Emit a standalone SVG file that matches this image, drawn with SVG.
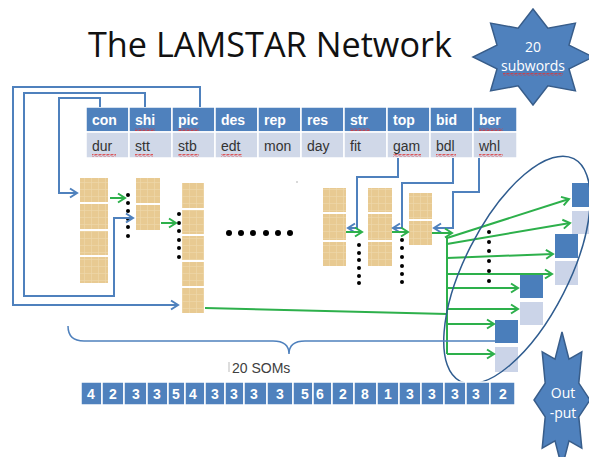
<svg xmlns="http://www.w3.org/2000/svg" width="589" height="457" viewBox="0 0 589 457">
<style>
.hdr{fill:#4F81BD;stroke:#fff;stroke-width:1.5}
.dat{fill:#D0D8E8;stroke:#fff;stroke-width:1.5}
.ht{font-family:"Liberation Sans",Arial,sans-serif;font-weight:bold;font-size:14px;fill:#fff}
.dt{font-family:"Liberation Sans",Arial,sans-serif;font-size:14px;fill:#333}
.som{fill:url(#tex)}
.blue{fill:none;stroke:#4F81BD;stroke-width:2}
.green{fill:none;stroke:#2DB04B;stroke-width:2}
.dot{fill:#000}
.od{fill:#4A7EBB}
.ol{fill:#CBD4E8}
.num{fill:#4F81BD;stroke:#fff;stroke-width:1.5}
.nt{font-family:"Liberation Sans",Arial,sans-serif;font-weight:bold;font-size:14px;fill:#fff;text-anchor:middle}
.star{fill:#4F81BD;stroke:#385D8A;stroke-width:1.5}
.st{font-family:"Open Sans","Liberation Sans",sans-serif;font-size:14px;fill:#fff;text-anchor:middle}
.sq{fill:url(#squig)}
</style>
<defs>
<pattern id="tex" width="7" height="7" patternUnits="userSpaceOnUse">
<rect width="7" height="7" fill="#E8CA92"/>
<path d="M0,0.5H7M0.5,0V7" stroke="#EED8AC" stroke-width="0.6"/>
</pattern>
<pattern id="squig" width="4" height="3" patternUnits="userSpaceOnUse">
<path d="M0,2.5L1,0.5L3,2.5L4,0.5" fill="none" stroke="#E03535" stroke-width="0.8"/>
</pattern>
<marker id="ab" markerUnits="userSpaceOnUse" markerWidth="12" markerHeight="12" refX="9" refY="6" orient="auto">
<path d="M2,1.5L9,6L2,10.5" fill="none" stroke="#4F81BD" stroke-width="2"/>
</marker>
<marker id="ag" markerUnits="userSpaceOnUse" markerWidth="12" markerHeight="12" refX="9" refY="6" orient="auto">
<path d="M2,1.5L9,6L2,10.5" fill="none" stroke="#2DB04B" stroke-width="2"/>
</marker>
</defs>
<rect width="589" height="457" fill="#fff"/>

<g id="title">
<text x="88" y="57" font-family="Open Sans,Liberation Sans,sans-serif" font-size="34" fill="#111" textLength="364" lengthAdjust="spacingAndGlyphs">The LAMSTAR Network</text>
</g>

<g id="star-subwords">
<polygon class="star" points="533,9 547.9,28.2 575.4,23.1 569,45.1 593,57 569,68.9 575.4,90.9 547.9,85.8 533,105 518.1,85.8 490.6,90.9 497,68.9 473,57 497,45.1 490.6,23.1 518.1,28.2"/>
<text class="st" x="533" y="52">20</text>
<text class="st" x="533" y="71">subwords</text>
<rect class="sq" x="503" y="73" width="60" height="3"/>
</g>

<g id="table">
<rect class="hdr" x="86" y="107" width="43" height="25"/>
<rect class="hdr" x="129" y="107" width="43" height="25"/>
<rect class="hdr" x="172" y="107" width="43" height="25"/>
<rect class="hdr" x="215" y="107" width="43" height="25"/>
<rect class="hdr" x="258" y="107" width="43" height="25"/>
<rect class="hdr" x="301" y="107" width="43" height="25"/>
<rect class="hdr" x="344" y="107" width="43" height="25"/>
<rect class="hdr" x="387" y="107" width="43" height="25"/>
<rect class="hdr" x="430" y="107" width="43" height="25"/>
<rect class="hdr" x="473" y="107" width="44" height="25"/>
<rect class="dat" x="86" y="132" width="43" height="26"/>
<rect class="dat" x="129" y="132" width="43" height="26"/>
<rect class="dat" x="172" y="132" width="43" height="26"/>
<rect class="dat" x="215" y="132" width="43" height="26"/>
<rect class="dat" x="258" y="132" width="43" height="26"/>
<rect class="dat" x="301" y="132" width="43" height="26"/>
<rect class="dat" x="344" y="132" width="43" height="26"/>
<rect class="dat" x="387" y="132" width="43" height="26"/>
<rect class="dat" x="430" y="132" width="43" height="26"/>
<rect class="dat" x="473" y="132" width="44" height="26"/>
<text class="ht" x="92" y="125">con</text>
<text class="ht" x="135" y="125">shi</text>
<text class="ht" x="178" y="125">pic</text>
<text class="ht" x="221" y="125">des</text>
<text class="ht" x="264" y="125">rep</text>
<text class="ht" x="307" y="125">res</text>
<text class="ht" x="350" y="125">str</text>
<text class="ht" x="393" y="125">top</text>
<text class="ht" x="436" y="125">bid</text>
<text class="ht" x="479" y="125">ber</text>
<text class="dt" x="92" y="151">dur</text>
<text class="dt" x="135" y="151">stt</text>
<text class="dt" x="178" y="151">stb</text>
<text class="dt" x="221" y="151">edt</text>
<text class="dt" x="264" y="151">mon</text>
<text class="dt" x="307" y="151">day</text>
<text class="dt" x="350" y="151">fit</text>
<text class="dt" x="393" y="151">gam</text>
<text class="dt" x="436" y="151">bdl</text>
<text class="dt" x="479" y="151">whl</text>
<rect class="sq" x="135" y="128" width="20" height="3"/>
<rect class="sq" x="178" y="128" width="21" height="3"/>
<rect class="sq" x="350" y="128" width="20" height="3"/>
<rect class="sq" x="479" y="128" width="24" height="3"/>
<rect class="sq" x="92" y="154" width="24" height="3"/>
<rect class="sq" x="135" y="154" width="18" height="3"/>
<rect class="sq" x="178" y="154" width="21" height="3"/>
<rect class="sq" x="221" y="154" width="21" height="3"/>
<rect class="sq" x="393" y="154" width="28" height="3"/>
<rect class="sq" x="436" y="154" width="20" height="3"/>
<rect class="sq" x="479" y="154" width="24" height="3"/>
</g>

<g id="som-1">
<rect class="som" x="80" y="178" width="28" height="24"/>
<rect class="som" x="80" y="204" width="28" height="25"/>
<rect class="som" x="80" y="231" width="28" height="24"/>
<rect class="som" x="80" y="257" width="28" height="26"/>
</g>
<g id="som-2">
<rect class="som" x="136" y="178" width="24" height="25"/>
<rect class="som" x="136" y="205" width="24" height="25"/>
</g>
<g id="som-3">
<rect class="som" x="182" y="183" width="22" height="25"/>
<rect class="som" x="182" y="210" width="22" height="24"/>
<rect class="som" x="182" y="236" width="22" height="24"/>
<rect class="som" x="182" y="262" width="22" height="24"/>
<rect class="som" x="182" y="288" width="22" height="25"/>
</g>
<g id="som-a">
<rect class="som" x="323" y="188" width="23" height="24"/>
<rect class="som" x="323" y="214" width="23" height="26"/>
<rect class="som" x="323" y="242" width="23" height="24"/>
</g>
<g id="som-b">
<rect class="som" x="368" y="188" width="24" height="24"/>
<rect class="som" x="368" y="214" width="24" height="26"/>
<rect class="som" x="368" y="242" width="24" height="24"/>
</g>
<g id="som-c">
<rect class="som" x="409" y="193" width="23" height="26"/>
<rect class="som" x="409" y="221" width="23" height="24"/>
</g>

<g id="dots">
<circle class="dot" cx="128" cy="195" r="2"/><circle class="dot" cx="128" cy="203" r="2"/><circle class="dot" cx="128" cy="211" r="2"/><circle class="dot" cx="128" cy="219" r="2"/><circle class="dot" cx="128" cy="227" r="2"/><circle class="dot" cx="128" cy="236" r="2"/>
<circle class="dot" cx="179" cy="214" r="2"/><circle class="dot" cx="179" cy="223" r="2"/><circle class="dot" cx="179" cy="231" r="2"/><circle class="dot" cx="179" cy="240" r="2"/><circle class="dot" cx="179" cy="248" r="2"/><circle class="dot" cx="179" cy="257" r="2"/>
<circle class="dot" cx="229" cy="233" r="3"/><circle class="dot" cx="241" cy="233" r="3"/><circle class="dot" cx="253" cy="233" r="3"/><circle class="dot" cx="266" cy="233" r="3"/><circle class="dot" cx="278" cy="233" r="3"/><circle class="dot" cx="290" cy="233" r="3"/>
<circle class="dot" cx="359" cy="245" r="2"/><circle class="dot" cx="359" cy="253" r="2"/><circle class="dot" cx="359" cy="260" r="2"/><circle class="dot" cx="359" cy="268" r="2"/><circle class="dot" cx="359" cy="276" r="2"/><circle class="dot" cx="359" cy="283" r="2"/>
<circle class="dot" cx="402" cy="240" r="2"/><circle class="dot" cx="402" cy="248" r="2"/><circle class="dot" cx="402" cy="257" r="2"/><circle class="dot" cx="402" cy="266" r="2"/><circle class="dot" cx="402" cy="274" r="2"/><circle class="dot" cx="402" cy="282" r="2"/>
<circle class="dot" cx="489" cy="232" r="2"/><circle class="dot" cx="489" cy="242" r="2"/><circle class="dot" cx="489" cy="251" r="2"/><circle class="dot" cx="489" cy="261" r="2"/><circle class="dot" cx="489" cy="271" r="2"/><circle class="dot" cx="489" cy="281" r="2"/>
<circle cx="297" cy="182" r="1" fill="#ccc"/>
</g>

<g id="outputs">
<rect class="od" x="572" y="183" width="20" height="24"/>
<rect class="ol" x="572" y="211" width="20" height="23"/>
<rect class="od" x="555" y="234" width="23" height="24"/>
<rect class="ol" x="555" y="261" width="23" height="24"/>
<rect class="od" x="520" y="275" width="23" height="23"/>
<rect class="ol" x="520" y="302" width="23" height="23"/>
<rect class="od" x="495" y="320" width="23" height="23"/>
<rect class="ol" x="495" y="347" width="23" height="25"/>
</g>

<g id="connectors">
<path class="blue" d="M100,107V98H59V193H77" marker-end="url(#ab)"/>
<path class="blue" d="M145,107V93H24V296H114V218H133" marker-end="url(#ab)"/>
<path class="blue" d="M200,107V87H13V305H178" marker-end="url(#ab)"/>
<path class="blue" d="M398,158V177H357V228H348" marker-end="url(#ab)"/>
<path class="blue" d="M453,158V183H402V228H393" marker-end="url(#ab)"/>
<path class="blue" d="M479,158V192H453V228H434" marker-end="url(#ab)"/>
<path class="green" d="M110,198H125" marker-end="url(#ag)"/>
<path class="green" d="M161,223H176" marker-end="url(#ag)"/>
<path class="green" d="M346,232H362" marker-end="url(#ag)"/>
<path class="green" d="M392,232H408" marker-end="url(#ag)"/>
<path class="green" d="M432,233H452" marker-end="url(#ag)"/>
<path class="green" d="M205,308L447,314"/>
<path class="green" d="M447,236V354"/>
<path class="green" d="M447,238L569,199" marker-end="url(#ag)"/>
<path class="green" d="M447,244L570,223" marker-end="url(#ag)"/>
<path class="green" d="M447,258L553,254" marker-end="url(#ag)"/>
<path class="green" d="M447,274L552,274" marker-end="url(#ag)"/>
<path class="green" d="M447,288L518,288" marker-end="url(#ag)"/>
<path class="green" d="M447,309L518,309" marker-end="url(#ag)"/>
<path class="green" d="M447,324L494,324" marker-end="url(#ag)"/>
<path class="green" d="M447,354L494,354" marker-end="url(#ag)"/>
</g>

<g id="ellipse">
<ellipse cx="517" cy="270" rx="125" ry="52" transform="rotate(-63 517 270)" fill="none" stroke="#2F5C8F" stroke-width="1.5"/>
</g>

<g id="brace">
<path d="M68,326Q68,341 84,341H273Q289,341 289,354Q289,341 305,341H495" fill="none" stroke="#4F81BD" stroke-width="1.5"/>
<line x1="229" y1="362" x2="229" y2="372" stroke="#bbb" stroke-width="1"/>
<text x="232" y="373" font-family="Liberation Sans,Arial,sans-serif" font-size="14" fill="#404040">20 SOMs</text>
</g>

<g id="number-row">
<rect class="num" x="81" y="382" width="21" height="23"/>
<rect class="num" x="102" y="382" width="22" height="23"/>
<rect class="num" x="124" y="382" width="23" height="23"/>
<rect class="num" x="147" y="382" width="21" height="23"/>
<rect class="num" x="168" y="382" width="17" height="23"/>
<rect class="num" x="185" y="382" width="20" height="23"/>
<rect class="num" x="205" y="382" width="20" height="23"/>
<rect class="num" x="225" y="382" width="19" height="23"/>
<rect class="num" x="244" y="382" width="23" height="23"/>
<rect class="num" x="267" y="382" width="26" height="23"/>
<rect class="num" x="293" y="382" width="20" height="23"/>
<rect class="num" x="313" y="382" width="19" height="23"/>
<rect class="num" x="332" y="382" width="22" height="23"/>
<rect class="num" x="354" y="382" width="23" height="23"/>
<rect class="num" x="377" y="382" width="22" height="23"/>
<rect class="num" x="399" y="382" width="22" height="23"/>
<rect class="num" x="421" y="382" width="23" height="23"/>
<rect class="num" x="444" y="382" width="22" height="23"/>
<rect class="num" x="466" y="382" width="24" height="23"/>
<rect class="num" x="490" y="382" width="25" height="23"/>
<text class="nt" x="91" y="399">4</text>
<text class="nt" x="113" y="399">2</text>
<text class="nt" x="136" y="399">3</text>
<text class="nt" x="157" y="399">3</text>
<text class="nt" x="176" y="399">5</text>
<text class="nt" x="193" y="399">4</text>
<text class="nt" x="215" y="399">3</text>
<text class="nt" x="234" y="399">3</text>
<text class="nt" x="254" y="399">3</text>
<text class="nt" x="280" y="399">3</text>
<text class="nt" x="305" y="399">5</text>
<text class="nt" x="320" y="399">6</text>
<text class="nt" x="343" y="399">2</text>
<text class="nt" x="365" y="399">8</text>
<text class="nt" x="388" y="399">1</text>
<text class="nt" x="410" y="399">3</text>
<text class="nt" x="432" y="399">3</text>
<text class="nt" x="455" y="399">3</text>
<text class="nt" x="476" y="399">3</text>
<text class="nt" x="503" y="399">2</text>
</g>

<g id="star-output">
<polygon class="star" points="562,332 569,359.2 581.8,351.9 578.8,383.1 590,400 578.8,416.9 581.8,448.1 569,440.8 562,468 555,440.8 542.2,448.1 545.2,416.9 534,400 545.2,383.1 542.2,351.9 555,359.2"/>
<text class="st" x="563" y="398">Out</text>
<text class="st" x="563" y="418">-put</text>
</g>
</svg>
